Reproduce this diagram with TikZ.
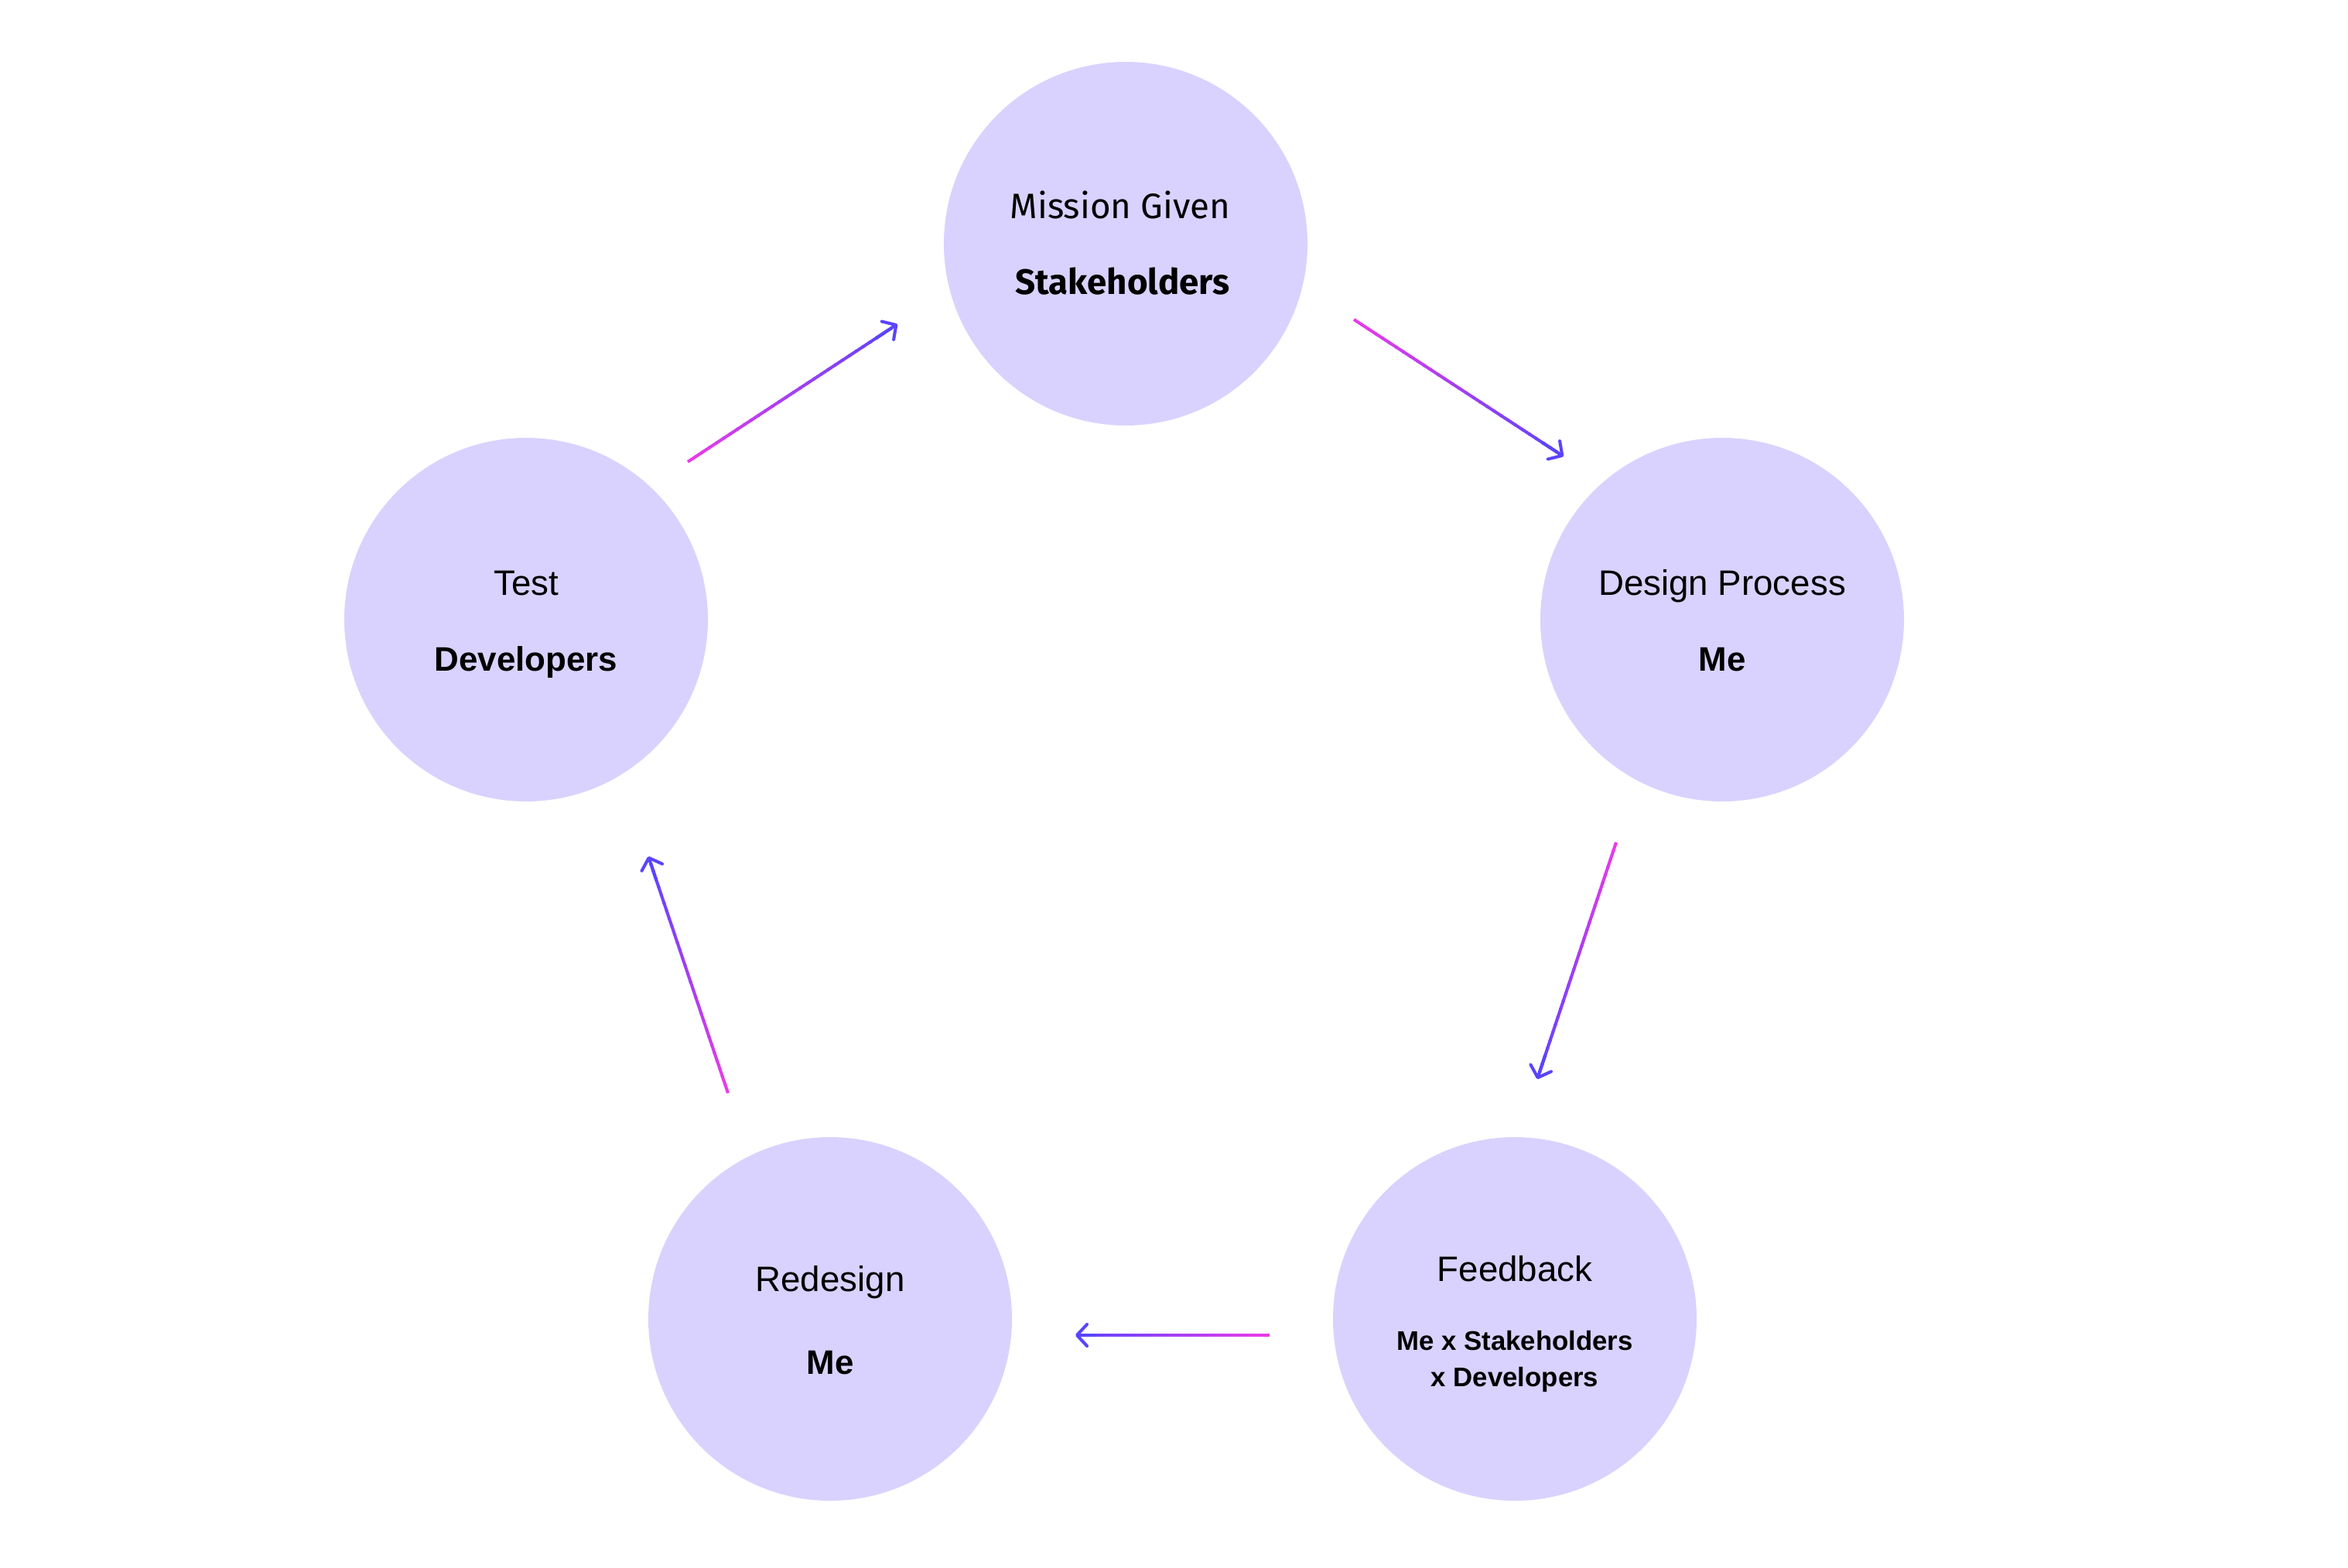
\documentclass[tikz,border=0pt]{standalone}
\usepackage{fontspec}
\setmainfont{Liberation Sans}
\newfontfamily\msnfont{Fira Sans}
\usetikzlibrary{calc}
\usetikzlibrary{arrows.meta}
\definecolor{lav}{HTML}{D9D2FE}
\definecolor{pnk}{HTML}{EC3BE8}
\definecolor{blu}{HTML}{5A44FE}
\newcommand\cycArr[2]{
    \def\n{30}
    \foreach \i in {1,...,30}
    {
        \pgfmathsetmacro\p{100-100*(\i-0.5)/\n}
        \draw[line width=1.15pt, color=pnk!\p!blu]
            ($(#1)!{(\i-1)/\n}!(#2)$) -- ($(#1)!{min((\i+0.2)/\n,0.97)}!(#2)$);
    }
    \draw[line width=1.15pt, blu, line cap=round,
        -{Straight Barb[length=1.3mm, width=2.8mm, round]}]
        ($(#1)!0.9!(#2)$) -- (#2);
}

\begin{document}
\begin{tikzpicture}[
        O/.style={circle, fill=lav, minimum size=4.7cm, inner sep=0pt},
        T/.style={anchor=base, font=\fontsize{13}{15}\selectfont},
        W/.style={anchor=base, font=\fontsize{12.5}{15}\selectfont\bfseries},
        V/.style={anchor=base, align=center,
            font=\fontsize{9.9}{13.3}\selectfont\bfseries}
    ]
    \useasboundingbox (0,0) rectangle (30.35,-20.26);

    % circles
    \node[O] (M) at (14.55,-3.15) {};
    \node[O] (D) at (22.26,-8.01) {};
    \node[O] (F) at (19.58,-17.05) {};
    \node[O] (R) at (10.73,-17.05) {};
    \node[O] (T) at (6.80,-8.01) {};

    % labels
    \node[T, font=\msnfont\fontsize{13}{15}\selectfont] (Mt) at ($(M)+(-0.07,0.33)$) {Mission Given};
    \node[W, font=\msnfont\fontsize{13}{15}\selectfont\bfseries] (Mw) at ($(M)+(-0.04,-0.65)$) {Stakeholders};
    \node[T] (Dt) at ($(D)+(0,0.32)$) {Design Process};
    \node[W] (Dw) at ($(D)+(0,-0.66)$) {Me};
    \node[T] (Ft) at ($(F)+(0,0.49)$) {Feedback};
    \node[V] (Fw) at ($(F)+(0,-0.87)$) {Me x Stakeholders\\x Developers};
    \node[T] (Rt) at ($(R)+(0,0.36)$) {Redesign};
    \node[W] (Rw) at ($(R)+(0,-0.71)$) {Me};
    \node[T] (Tt) at ($(T)+(0,0.32)$) {Test};
    \node[W] (Tw) at ($(T)+(0,-0.66)$) {Developers};

    % arrow ends
    \coordinate (a1) at (17.50,-4.13);
    \coordinate (b1) at (20.21,-5.90);
    \coordinate (a2) at (20.89,-10.89);
    \coordinate (b2) at (19.87,-13.95);
    \coordinate (a3) at (16.41,-17.26);
    \coordinate (b3) at (13.90,-17.26);
    \coordinate (a4) at (9.41,-14.13);
    \coordinate (b4) at (8.38,-11.07);
    \coordinate (a5) at (8.89,-5.97);
    \coordinate (b5) at (11.60,-4.19);

    \cycArr{a1}{b1}
    \cycArr{a2}{b2}
    \cycArr{a3}{b3}
    \cycArr{a4}{b4}
    \cycArr{a5}{b5}
\end{tikzpicture}
\end{document}
